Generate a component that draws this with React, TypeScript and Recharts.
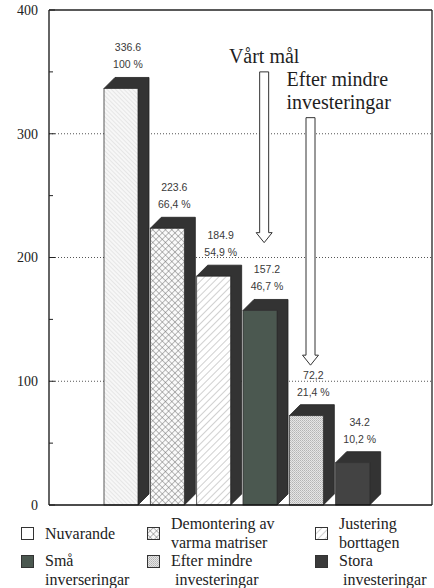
import React from "react";
import {
  BarChart, Bar, Cell, XAxis, YAxis, CartesianGrid,
  ReferenceLine, ReferenceArea, LabelList,
} from "recharts";

// legend text, one entry per bar (also used as category names)
const legendLines = [
  ["Nuvarande"],
  ["Demontering av", "varma matriser"],
  ["Justering", "borttagen"],
  ["Små", "inverseringar"],
  ["Efter mindre", "investeringar"],
  ["Stora", "investeringar"],
];
const categories = legendLines.map((l) => l.join(" "));
const values = [336.6, 223.6, 184.9, 157.2, 72.2, 34.2];
const valueLabels = ["336.6", "223.6", "184.9", "157.2", "72,2", "34.2"];
const percentLabels = ["100 %", "66,4 %", "54,9 %", "46,7 %", "21,4 %", "10,2 %"];

const yTicks = [0, 50, 100, 150, 200, 250, 300, 350, 400];
const gridValues = [100, 200, 300];

// annotation arrows: target bar, text, tip value and tail value
const goalTargets = ["Små inverseringar", "Efter mindre investeringar"];
const goalTexts = [["Vårt mål"], ["Efter mindre", "investeringar"]];
const goalTips = [212, 113];
const goalTops = [350, 313];

const data = categories.map((name, i) => ({
  name,
  value: values[i],
  valueText: valueLabels[i],
  pct: percentLabels[i],
}));

const DEPTH = 11;
const SIDE = "#333333";
const SERIF = '"Liberation Serif", "Times New Roman", serif';
const SANS = '"Liberation Sans", Arial, sans-serif';

const BAR_FILLS = ["url(#c-nuv)", "url(#c-dem)", "url(#c-jus)", "#4b5850", "url(#c-eft)", "#434343"];
const LEGEND_FILLS = ["#ffffff", "url(#l-dem)", "url(#l-jus)", "#4b5850", "url(#l-eft)", "#3a3a3a"];
const GOAL_TEXT = [
  { anchor: "middle", dx: 0 },
  { anchor: "start", dx: -24 },
];

function Patterns({ prefix }: { prefix: string }) {
  return (
    <defs>
      <pattern id={`${prefix}-nuv`} width="3" height="3" patternUnits="userSpaceOnUse" patternTransform="rotate(-45)">
        <rect width="3" height="3" fill="#f7f7f7" />
        <line x1="0" y1="0" x2="0" y2="3" stroke="#c6c6c6" strokeWidth="0.7" />
      </pattern>
      <pattern id={`${prefix}-dem`} width="4.5" height="4.5" patternUnits="userSpaceOnUse" patternTransform="rotate(45)">
        <rect width="4.5" height="4.5" fill="#fafafa" />
        <line x1="0" y1="0" x2="0" y2="4.5" stroke="#6a6a6a" strokeWidth="0.9" />
        <line x1="0" y1="0" x2="4.5" y2="0" stroke="#6a6a6a" strokeWidth="0.9" />
      </pattern>
      <pattern id={`${prefix}-jus`} width="5" height="5" patternUnits="userSpaceOnUse" patternTransform="rotate(45)">
        <rect width="5" height="5" fill="#ffffff" />
        <line x1="0" y1="0" x2="0" y2="5" stroke="#8a8a8a" strokeWidth="0.8" />
      </pattern>
      <pattern id={`${prefix}-eft`} width="2" height="2" patternUnits="userSpaceOnUse">
        <rect width="2" height="2" fill="#e6e6e6" />
        <rect width="1" height="1" fill="#b4b4b4" />
        <rect x="1" y="1" width="1" height="1" fill="#c4c4c4" />
      </pattern>
    </defs>
  );
}

function Bar3D(props: any) {
  const { x, y, width, height, fill } = props;
  if (!height) return null;
  const fx = x + 1;
  const fw = width - DEPTH - 1;
  const right = fx + fw;
  const bottom = y + height;
  const dark = [
    [fx, y], [fx + DEPTH, y - DEPTH], [right + DEPTH, y - DEPTH],
    [right + DEPTH, bottom - DEPTH], [right, bottom], [right, y],
  ].map((p) => p.join(",")).join(" ");
  return (
    <g>
      <polygon points={dark} fill={SIDE} stroke="#222" strokeWidth={0.8} />
      <rect x={fx} y={y} width={fw} height={height} fill={fill} stroke="#333" strokeWidth={0.8} />
    </g>
  );
}

function TopLabel(props: any) {
  const vb = props.viewBox ?? props;
  return (
    <text x={vb.x + vb.width / 2 + 2} y={vb.y - props.lift} textAnchor="middle"
      fontFamily={SANS} fontSize={10.5} fill="#3a3a3a">
      {props.value}
    </text>
  );
}

function YTick({ x, y, payload }: any) {
  const major = payload.value % 100 === 0;
  return (
    <g>
      <line x1={x + 11} x2={x + 11 + (major ? 6 : 4)} y1={y} y2={y} stroke="#222" strokeWidth={1} />
      {major && (
        <text x={x} y={y} dy="0.35em" textAnchor="end" fontFamily={SERIF} fontSize={14} fill="#222">
          {payload.value}
        </text>
      )}
    </g>
  );
}

function GoalArrow({ x, y, width, height, index }: any) {
  const cx = x + width / 2 - 1;
  const top = y;
  const tip = y + height;
  const base = tip - 10;
  const pts = [
    [cx - 4.5, top], [cx - 4.5, base], [cx - 8, base], [cx, tip],
    [cx + 8, base], [cx + 4.5, base], [cx + 4.5, top],
  ].map((p) => p.join(",")).join(" ");
  const lines = goalTexts[index];
  const st = GOAL_TEXT[index];
  return (
    <g>
      <polygon points={pts} fill="#fff" stroke="#333" strokeWidth={1} />
      {lines.map((t, j) => (
        <text key={t} x={cx + st.dx} y={top - 9 - (lines.length - 1 - j) * 23}
          textAnchor={st.anchor} fontFamily={SERIF} fontSize={20} fill="#1e1e1e">
          {t}
        </text>
      ))}
    </g>
  );
}

function Legend() {
  const colX = [21, 147, 315];
  const rowY = [527, 555];
  return (
    <>
      {legendLines.map((lines, i) => {
        const col = i % 3;
        const row = Math.floor(i / 3);
        const textTop = row === 0 ? rowY[row] + 6 - (lines.length * 19) / 2 : rowY[row] - 4;
        return (
          <div key={i}>
            <svg width={13} height={13} style={{ position: "absolute", left: colX[col], top: rowY[row] }}>
              <Patterns prefix="l" />
              <rect x={0.5} y={0.5} width={12} height={12} fill={LEGEND_FILLS[i]} stroke="#333" strokeWidth={1} />
            </svg>
            <div style={{
              position: "absolute", left: colX[col] + 24, top: textTop,
              fontFamily: SERIF, fontSize: 16, lineHeight: "19px", color: "#222", whiteSpace: "nowrap",
            }}>
              {lines.map((t, j) => (
                <div key={t} style={{ paddingLeft: j > 0 && row === 1 && col > 0 ? 4 : 0 }}>{t}</div>
              ))}
            </div>
          </div>
        );
      })}
    </>
  );
}

export default function App() {
  return (
    <div style={{ position: "absolute", left: 0, top: 0, width: 434, height: 588, background: "#fff", overflow: "hidden" }}>
      <BarChart width={434} height={520} data={data} barCategoryGap={0} barGap={0}
        margin={{ top: 10, right: 1, bottom: 0, left: 0 }}>
        <Patterns prefix="c" />
        <CartesianGrid vertical={false} horizontalValues={gridValues} stroke="#555" strokeDasharray="1 2" />
        <XAxis dataKey="name" tick={false} tickLine={false} height={15}
          padding={{ left: 54, right: 51 }} axisLine={{ stroke: "#111", strokeWidth: 1.3 }} />
        <YAxis domain={[0, 400]} ticks={yTicks} interval={0} width={49} tickSize={0} tickMargin={11}
          tick={<YTick />} tickLine={false} axisLine={{ stroke: "#111", strokeWidth: 1.3 }} />
        <YAxis yAxisId="frame" orientation="right" domain={[0, 400]} width={1} tick={false}
          tickLine={false} axisLine={{ stroke: "#222", strokeWidth: 1.3 }} />
        <ReferenceLine y={400} stroke="#222" strokeWidth={1.3} />
        <Bar dataKey="value" shape={Bar3D} isAnimationActive={false}>
          {data.map((d, i) => <Cell key={d.name} fill={BAR_FILLS[i]} />)}
          <LabelList dataKey="valueText" content={(p: any) => <TopLabel {...p} lift={37} />} />
          <LabelList dataKey="pct" content={(p: any) => <TopLabel {...p} lift={20} />} />
        </Bar>
        {goalTargets.map((cat, i) => (
          <ReferenceArea key={cat} x1={cat} x2={cat} y1={goalTips[i]} y2={goalTops[i]}
            ifOverflow="visible" shape={(p: any) => <GoalArrow {...p} index={i} />} />
        ))}
      </BarChart>
      <Legend />
    </div>
  );
}
